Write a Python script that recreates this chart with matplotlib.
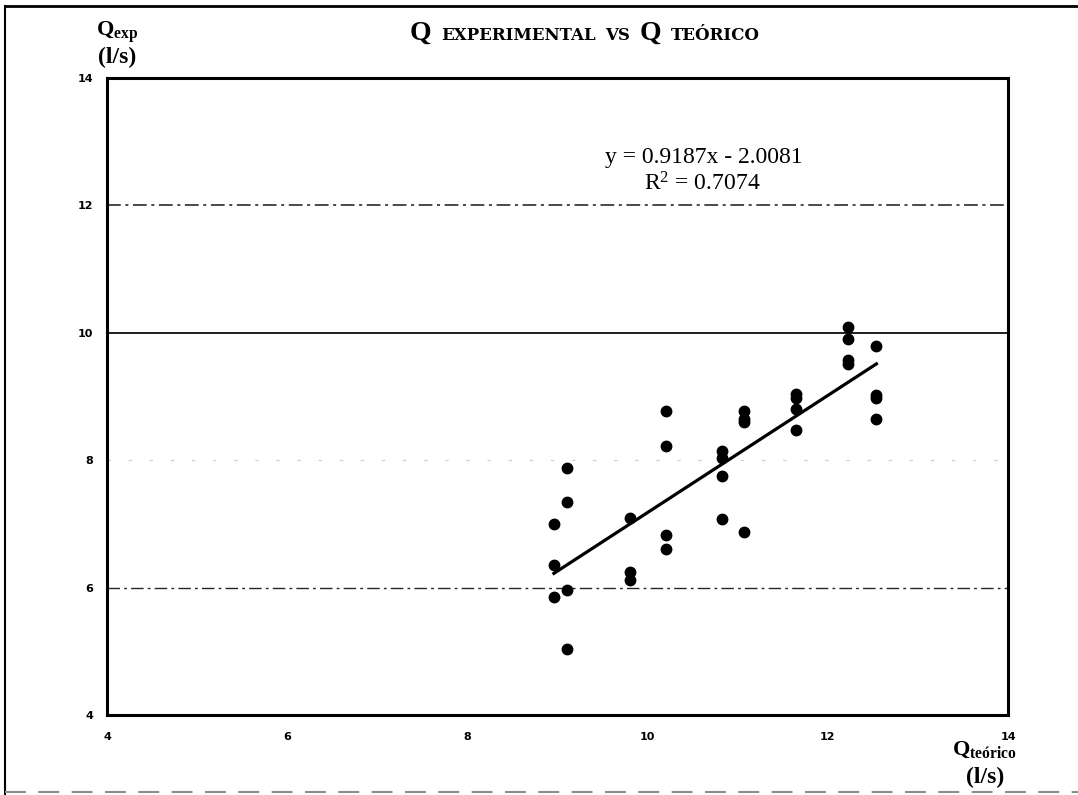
import matplotlib
matplotlib.use("Agg")
import matplotlib.pyplot as plt
from matplotlib.offsetbox import TextArea, HPacker, AnnotationBbox
from matplotlib.lines import Line2D

# caudal teórico vs caudal experimental (l/s)
q_teorico = [8.96, 8.96, 8.96,
             9.11, 9.11, 9.11, 9.11,
             9.81, 9.81, 9.81,
             10.20, 10.20, 10.20, 10.20,
             10.83, 10.83, 10.83, 10.83,
             11.07, 11.07, 11.07, 11.07,
             11.65, 11.65, 11.65, 11.65,
             12.22, 12.22, 12.22, 12.22,
             12.54, 12.54, 12.54, 12.54]
q_exp = [7.00, 6.35, 5.86,
         7.88, 7.34, 5.97, 5.03,
         7.10, 6.25, 6.12,
         8.78, 8.22, 6.82, 6.61,
         8.15, 8.03, 7.75, 7.08,
         8.78, 8.65, 8.60, 6.88,
         9.04, 8.97, 8.80, 8.48,
         10.09, 9.90, 9.57, 9.51,
         9.80, 9.02, 8.97, 8.65]

slope = 0.9187
intercept = -2.0081
r2 = 0.7074

ticks = [4, 6, 8, 10, 12, 14]

W, H = 1078, 795


def fx(px):
    return px / W


def fy(py):
    return 1 - py / H


def main():
    plt.rcParams["mathtext.fontset"] = "custom"
    plt.rcParams["mathtext.rm"] = "Liberation Serif"
    plt.rcParams["mathtext.bf"] = "Liberation Serif:bold"
    plt.rcParams["mathtext.it"] = "Liberation Serif:italic"

    fig = plt.figure(figsize=(W / 100, H / 100), dpi=100)
    ax = fig.add_axes([fx(107), fy(715), fx(1008) - fx(107), fy(78) - fy(715)])

    ax.set_xlim(4, 14)
    ax.set_ylim(4, 14)
    ax.set_xticks(ticks)
    ax.set_yticks(ticks)
    tick_font = dict(family=["Liberation Sans Narrow", "DejaVu Sans"], weight="bold", size=8)
    ax.set_xticklabels([str(t) for t in ticks], **tick_font)
    ax.set_yticklabels([str(t) for t in ticks], **tick_font)
    ax.tick_params(axis="both", length=0)
    ax.tick_params(axis="x", pad=12)
    ax.tick_params(axis="y", pad=10)
    for sp in ax.spines.values():
        sp.set_linewidth(2.2)
        sp.set_color("black")

    # líneas de división horizontales (escaneadas, algo irregulares)
    ax.grid(axis="y", color="black", linewidth=1.1)
    grid_styles = {6: ((0, (9, 3, 2, 3)), 1.0, 0.85),
                   8: ((0, (3, 16)), 0.8, 0.2),
                   10: ("-", 1.3, 0.95),
                   12: ((0, (9, 3, 2, 3)), 1.1, 0.9)}
    for t, gl in zip(ticks, ax.get_ygridlines()):
        if t in grid_styles:
            ls, lw, a = grid_styles[t]
            gl.set_linestyle(ls)
            gl.set_linewidth(lw)
            gl.set_alpha(a)
        else:
            gl.set_visible(False)

    ax.plot(q_teorico, q_exp, "o", color="black", markersize=7.5, zorder=3)

    x0, x1 = min(q_teorico), max(q_teorico)
    ax.plot([x0, x1], [slope * x0 + intercept, slope * x1 + intercept],
            color="black", linewidth=2.3, zorder=4)

    # ecuación de la línea de tendencia
    sign = "-" if intercept < 0 else "+"
    fig.text(fx(704), fy(157), f"y = {slope:.4f}x {sign} {abs(intercept):.4f}",
             family="Liberation Serif", size=17, ha="center", va="center")
    fig.text(fx(702), fy(184), r"R$^{2}$ = " + f"{r2:.4f}",
             family="Liberation Serif", size=17, ha="center", va="center")

    # título con versalitas
    big = dict(family="Liberation Serif", weight="bold", size=20)
    small = dict(family="DejaVu Serif", weight="bold", size=12)
    parts = [TextArea("Q", textprops=big),
             TextArea("EXPERIMENTAL", textprops=small),
             TextArea("VS", textprops=small),
             TextArea("Q", textprops=big),
             TextArea("TEÓRICO", textprops=small)]
    title = HPacker(children=parts, align="baseline", pad=0, sep=7)
    fig.add_artist(AnnotationBbox(title, (fx(585), fy(33)), xycoords="figure fraction",
                                  box_alignment=(0.5, 0.5), frameon=False))

    # rótulos de los ejes
    fig.text(fx(117), fy(32), r"$\mathbf{Q_{exp}}$", size=16, ha="center", va="center")
    fig.text(fx(117), fy(57), "(l/s)", family="Liberation Serif", weight="bold",
             size=17, ha="center", va="center")
    fig.text(fx(984), fy(750), r"$\mathbf{Q_{te\acute{o}rico}}$", size=16, ha="center", va="center")
    fig.text(fx(985), fy(777), "(l/s)", family="Liberation Serif", weight="bold",
             size=17, ha="center", va="center")

    # marco de la hoja
    fig.add_artist(Line2D([fx(5), 1], [fy(6), fy(6)], color="black", linewidth=2))
    fig.add_artist(Line2D([fx(5), fx(5)], [fy(6), 0], color="black", linewidth=1.5))
    fig.add_artist(Line2D([fx(5), 1], [fy(792), fy(792)], color="0.55",
                          linewidth=1.5, linestyle=(0, (10, 6))))

    fig.savefig("out.png", dpi=100)
    plt.close(fig)


if __name__ == "__main__":
    main()
